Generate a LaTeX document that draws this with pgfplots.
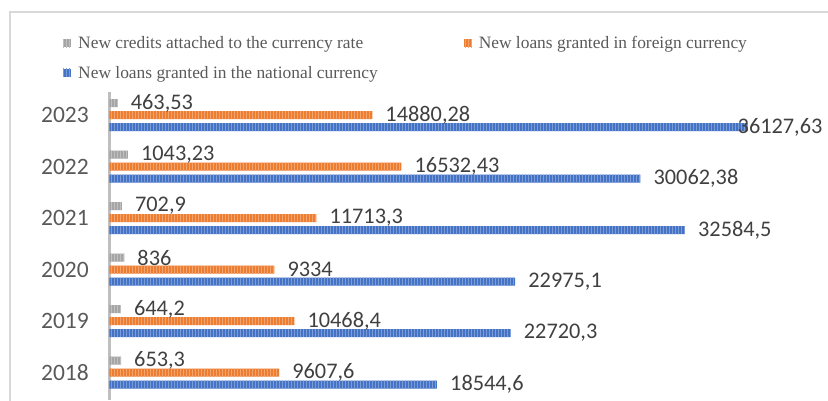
\documentclass[border=0pt]{standalone}
\usepackage{pgfplots}
\pgfplotsset{compat=1.18}
\usepackage{pgfplotstable}
\usepackage{fontspec}
\setmainfont{Carlito}
\newfontfamily\legendfont{Liberation Serif}
\usetikzlibrary{patterns}
\definecolor{cgray}{HTML}{A5A5A5}
\definecolor{corange}{HTML}{ED7D31}
\definecolor{cblue}{HTML}{4472C4}
\definecolor{ctext}{HTML}{595959}
\definecolor{clabel}{HTML}{404040}
\definecolor{caxis}{HTML}{BFBFBF}
\definecolor{cborder}{HTML}{D9D9D9}

\pgfplotstableread{
y x lbl
0 653.3 653,3
1 644.2 644,2
2 836 836
3 702.9 702,9
4 1043.23 1043,23
5 463.53 463,53
}\graydata

\pgfplotstableread{
y x lbl
0 9607.6 9607,6
1 10468.4 10468,4
2 9334 9334
3 11713.3 11713,3
4 16532.43 16532,43
5 14880.28 14880,28
}\orangedata

\pgfplotstableread{
y x lbl sh
0 18544.6 18544,6 13
1 22720.3 22720,3 13
2 22975.1 22975,1 13
3 32584.5 32584,5 13
4 30062.38 30062,38 13
5 36127.63 36127,63 -10
}\bluedata

\begin{document}
\begin{tikzpicture}[x=1pt,y=1pt]
\draw[cborder, line width=1.5pt] (10,-5) -- (10,388) -- (840,388);
\begin{axis}[
  at={(109.5pt,0pt)}, anchor=south west,
  scale only axis,
  width=690.5pt, height=308pt,
  xmin=0, xmax=39100,
  ymin=-0.534, ymax=5.447,
  hide x axis,
  axis y line*=left,
  y axis line style={caxis, line width=2.5pt, -},
  ytick={0,1,2,3,4,5},
  yticklabels={2018,2019,2020,2021,2022,2023},
  major tick length=0pt,
  yticklabel style={font=\fontsize{23.5}{28}\selectfont, text=ctext, inner sep=0pt, xshift=-20.5pt},
  /pgf/number format/assume math mode=true,
  clip=false,
  point meta=explicit symbolic,
  nodes near coords,
  every node near coord/.append style={font=\fontsize{22.3}{27}\selectfont, text=clabel, anchor=west, inner sep=0pt},
  legend columns=2,
  legend cell align=left,
  legend style={draw=none, fill=none, at={(-0.0673,1.188)}, anchor=north west,
    font=\legendfont\fontsize{17.4}{21}\selectfont, text=ctext, inner sep=0pt,
    row sep=12pt,
    /tikz/every odd column/.append style={column sep=5pt},
    /tikz/every even column/.append style={column sep=84pt}},
]
\addplot[xbar, bar width=8pt, bar shift=12pt, draw=none, fill=cgray,
  postaction={pattern=vertical lines, pattern color=cgray!70!white},
  nodes near coords style={xshift=13pt, yshift=12pt},
  legend image code/.code={\fill[cgray] (0pt,-4pt) rectangle (8pt,4pt);}]
  table[x=x, y=y, meta=lbl] {\graydata};
\addplot[xbar, bar width=8pt, bar shift=0pt, draw=none, fill=corange,
  postaction={pattern=vertical lines, pattern color=corange!70!white},
  nodes near coords style={xshift=13pt},
  legend image code/.code={\fill[corange] (0pt,-4pt) rectangle (8pt,4pt);}]
  table[x=x, y=y, meta=lbl] {\orangedata};
\addplot[xbar, bar width=8pt, bar shift=-12pt, draw=none, fill=cblue,
  postaction={pattern=vertical lines, pattern color=cblue!70!white},
  visualization depends on={\thisrow{sh} \as \sh},
  nodes near coords style={xshift=\sh pt, yshift=-12pt},
  legend image code/.code={\fill[cblue] (0pt,-4pt) rectangle (8pt,4pt);}]
  table[x=x, y=y, meta=lbl] {\bluedata};
\legend{New credits attached to the currency rate, New loans granted in foreign currency, New loans granted in the national currency}
\end{axis}
\pgfresetboundingbox
\path[use as bounding box] (0,0) rectangle (828,400);
\end{tikzpicture}
\end{document}
